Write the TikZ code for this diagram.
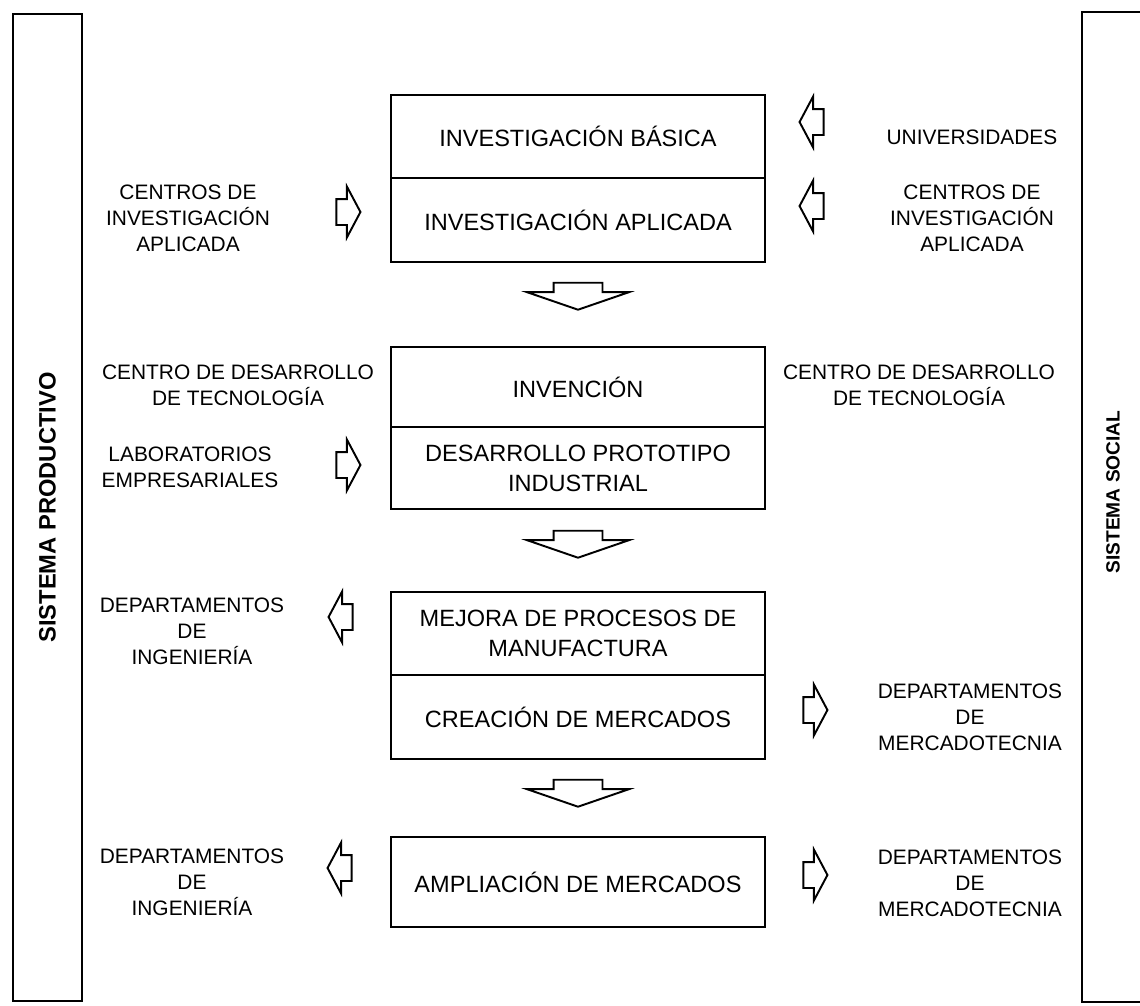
\documentclass[tikz,border=0pt]{standalone}
\usepackage{fontspec}
\setsansfont{Liberation Sans}
\usetikzlibrary{positioning}
\usetikzlibrary{shapes.arrows}

\tikzset{
  etapa/.style={draw, line width=1.1pt, outer sep=0pt, inner sep=0pt,
    minimum width=7.48cm, align=center,
    font=\sffamily\fontsize{13.4}{17}\selectfont},
  actor/.style={align=center, inner sep=0pt,
    font=\sffamily\fontsize{11.9}{14.8}\selectfont},
  flecha/.style={draw, line width=1.1pt, single arrow, inner xsep=0pt,
    inner ysep=0.24cm, minimum height=0.48cm, minimum width=0.98cm,
    single arrow head extend=0.25cm, single arrow tip angle=124},
  bajada/.style={draw, line width=1.1pt, single arrow, inner ysep=0pt,
    inner xsep=0.47cm, minimum height=0.54cm, minimum width=2cm,
    single arrow head extend=0.53cm, single arrow tip angle=142,
    shape border rotate=270}
}

\begin{document}
\begin{tikzpicture}[x=0.02cm, y=-0.02cm, font=\sffamily]
\useasboundingbox (0,0) rectangle (1140,1005);

% sistemas
\node[draw, line width=1.1pt, rotate=90, minimum width=19.74cm,
  minimum height=1.38cm, font=\sffamily\fontsize{13.5}{16}\selectfont\bfseries]
  (productivo) at (47.5,507.5) {SISTEMA PRODUCTIVO};
\draw[line width=1.1pt] (1140,12) -- (1082,12) -- (1082,1002) -- (1140,1002);
\node[rotate=90, font=\sffamily\fontsize{10.9}{13}\selectfont\bfseries]
  (social) at (1113,492) {SISTEMA SOCIAL};

% etapas
\node[etapa, minimum height=1.66cm] (basica) at (578,136.5) {INVESTIGACIÓN BÁSICA};
\node[etapa, minimum height=1.68cm, below=0pt of basica] (aplicada) {INVESTIGACIÓN APLICADA};
\node[etapa, minimum height=1.6cm] (invencion) at (578,387) {INVENCIÓN};
\node[etapa, minimum height=1.64cm, below=0pt of invencion] (prototipo) {DESARROLLO PROTOTIPO\\INDUSTRIAL};
\node[etapa, minimum height=1.66cm] (mejora) at (578,633.5) {MEJORA DE PROCESOS DE\\MANUFACTURA};
\node[etapa, minimum height=1.68cm, below=0pt of mejora] (creacion) {CREACIÓN DE MERCADOS};
\node[etapa, minimum height=1.8cm] (ampliacion) at (578,882) {AMPLIACIÓN DE MERCADOS};

\node[bajada] (paso1) at (578,292) {};
\node[bajada] (paso2) at (578,540) {};
\node[bajada] (paso3) at (578,789) {};

% actores
\node[actor] (cial) at (188,218) {CENTROS DE\\INVESTIGACIÓN\\APLICADA};
\node[actor] (univ) at (972,137) {UNIVERSIDADES};
\node[actor] (ciar) at (972,218) {CENTROS DE\\INVESTIGACIÓN\\APLICADA};
\node[actor] (cdtl) at (238,385) {CENTRO DE DESARROLLO\\DE TECNOLOGÍA};
\node[actor] (cdtr) at (919,385) {CENTRO DE DESARROLLO\\DE TECNOLOGÍA};
\node[actor] (labs) at (190,467) {LABORATORIOS\\EMPRESARIALES};
\node[actor] (ingA) at (192,631) {DEPARTAMENTOS\\DE\\INGENIERÍA};
\node[actor] (mercA) at (970,717) {DEPARTAMENTOS\\DE\\MERCADOTECNIA};
\node[actor] (ingB) at (192,882) {DEPARTAMENTOS\\DE\\INGENIERÍA};
\node[actor] (mercB) at (970,883) {DEPARTAMENTOS\\DE\\MERCADOTECNIA};

\node[flecha] (e1) at (345,212) {};
\node[flecha, shape border rotate=180] (e2) at (815,122) {};
\node[flecha, shape border rotate=180] (e3) at (815,206) {};
\node[flecha] (e4) at (345,465) {};
\node[flecha, shape border rotate=180] (s1) at (344,617) {};
\node[flecha] (s2) at (812,710) {};
\node[flecha, shape border rotate=180] (s3) at (343,868) {};
\node[flecha] (s4) at (812,875) {};
\end{tikzpicture}
\end{document}
